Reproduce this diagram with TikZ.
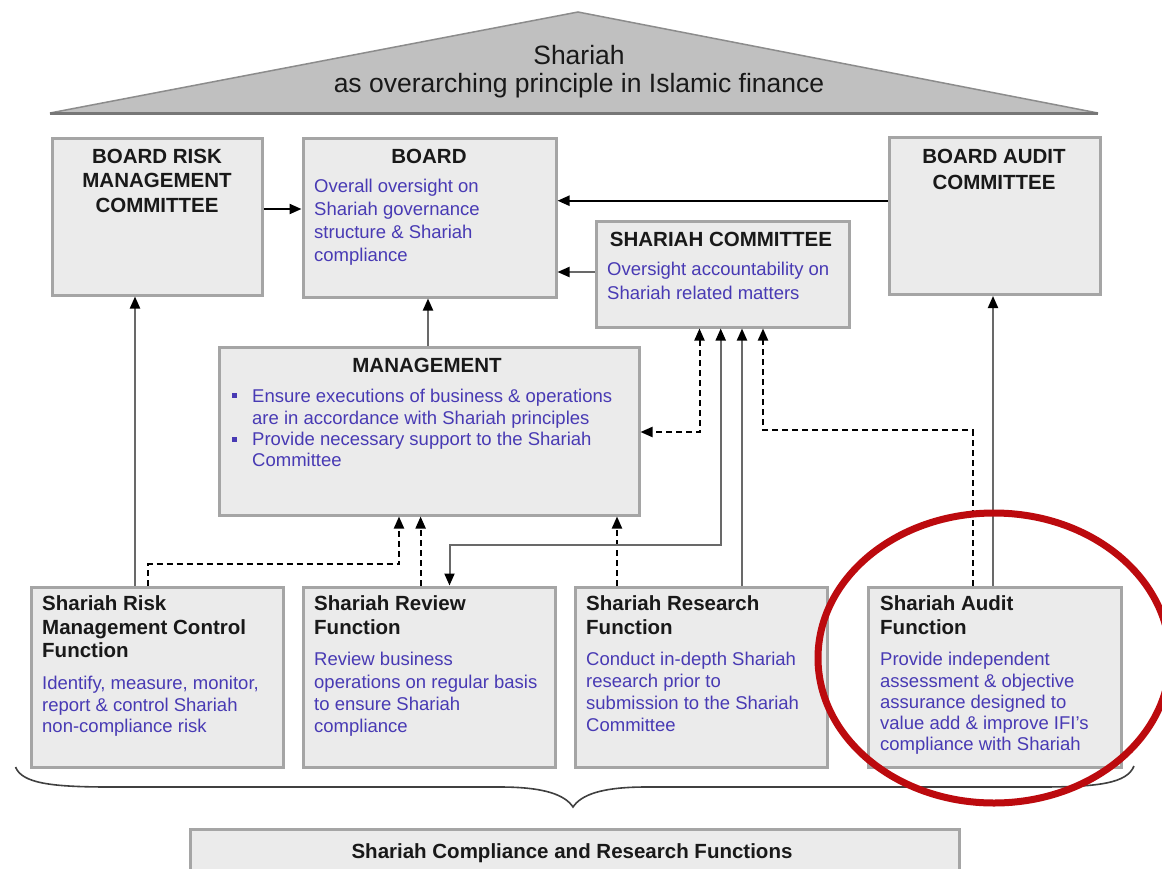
\documentclass[tikz,border=0pt]{standalone}
\usepackage{fontspec}
\setmainfont{Liberation Sans}
\usetikzlibrary{arrows.meta}
\definecolor{boxfill}{RGB}{235,235,235}
\definecolor{boxedge}{RGB}{165,165,165}
\definecolor{roofgray}{RGB}{192,192,192}
\definecolor{roofedge}{RGB}{140,140,140}
\definecolor{bodyblue}{RGB}{72,58,180}
\definecolor{titlecol}{RGB}{25,25,25}
\definecolor{conngray}{RGB}{105,105,105}
\definecolor{circred}{RGB}{188,10,14}
\tikzset{
  box/.style={rectangle, draw=boxedge, fill=boxfill, line width=3pt, inner sep=0pt},
  ttl/.style={inner sep=0pt, text=titlecol, font=\fontsize{20.5}{24.5}\selectfont\bfseries},
  body/.style={inner sep=0pt, text=bodyblue, align=left, anchor=north west},
  tip/.style={-{Triangle[length=12pt,width=10pt,color=black]}},
  tips/.style={{Triangle[length=12pt,width=10pt,color=black]}-{Triangle[length=12pt,width=10pt,color=black]}},
  sline/.style={draw=conngray, line width=2pt},
  bline/.style={draw=black, line width=2.2pt},
  dline/.style={draw=black, line width=2pt, dash pattern=on 6pt off 4pt},
  bul/.style={rectangle, fill=bodyblue, minimum size=5pt, inner sep=0pt}
}
\begin{document}
\begin{tikzpicture}[x=1pt,y=-1pt]
\useasboundingbox (0,0) rectangle (1162,868);
\clip (0,0) rectangle (1162,868);
\fill[white] (0,0) rectangle (1162,868);

% roof
\draw[fill=roofgray, draw=roofedge, line width=1.5pt, line join=miter] (50,113) -- (578,12) -- (1098,113) -- cycle;
\draw[draw=roofedge!85!black, line width=3.5pt] (50,113.5) -- (1098,113.5);
\node[inner sep=0pt, anchor=north, align=center, text=titlecol, font=\fontsize{26.5}{28}\selectfont] (roofT) at (579,45) {Shariah\\as overarching principle in Islamic finance};

% boxes
\node[box, minimum width=210pt, minimum height=157pt] (brmc) at (157,216.5) {};
\node[box, minimum width=253pt, minimum height=159pt] (board) at (429.5,217.5) {};
\node[box, minimum width=211pt, minimum height=157pt] (bac) at (994.5,216) {};
\node[box, minimum width=253pt, minimum height=106pt] (sc) at (722.5,274) {};
\node[box, minimum width=420pt, minimum height=168pt] (mgmt) at (429,431) {};
\node[box, minimum width=252pt, minimum height=180pt] (srm) at (157,677) {};
\node[box, minimum width=252pt, minimum height=180pt] (srv) at (429,677) {};
\node[box, minimum width=252pt, minimum height=180pt] (srs) at (701,677) {};
\node[box, minimum width=253pt, minimum height=180pt] (saf) at (994.5,677) {};
\node[box, minimum width=769pt, minimum height=71pt] (bot) at (574.5,864.5) {};

% texts
\node[ttl, anchor=north, align=center] (brmcT) at (157,148.5) {BOARD RISK\\MANAGEMENT\\COMMITTEE};
\node[ttl, anchor=north] (boardT) at (429,148.5) {BOARD};
\node[body, font=\fontsize{18.5}{22.7}\selectfont] (boardB) at (314,179.3) {Overall oversight on\\Shariah governance\\structure \& Shariah\\compliance};
\node[ttl, anchor=north, align=center, font=\fontsize{20.5}{26.5}\selectfont\bfseries] (bacT) at (994,148.5) {BOARD AUDIT\\COMMITTEE};
\node[ttl, anchor=north] (scT) at (721,231.5) {SHARIAH COMMITTEE};
\node[body, font=\fontsize{18.5}{24}\selectfont] (scB) at (607,262.3) {Oversight accountability on\\Shariah related matters};
\node[ttl, anchor=north] (mgmtT) at (427,357.5) {MANAGEMENT};
\node[body, font=\fontsize{18.5}{21.3}\selectfont] (mgmtB) at (252,389.3) {Ensure executions of business \& operations\\are in accordance with Shariah principles\\Provide necessary support to the Shariah\\Committee};
\node[bul] (bul1) at (234,395) {};
\node[bul] (bul2) at (234,439) {};

\node[ttl, anchor=north west, align=left, font=\fontsize{20.5}{23.5}\selectfont\bfseries] (srmT) at (42,595.5) {Shariah Risk\\Management Control\\Function};
\node[body, font=\fontsize{18.5}{21.5}\selectfont] (srmB) at (42,676) {Identify, measure, monitor,\\report \& control Shariah\\non-compliance risk};
\node[ttl, anchor=north west, align=left, font=\fontsize{20.5}{23.5}\selectfont\bfseries] (srvT) at (314,595.5) {Shariah Review\\Function};
\node[body, font=\fontsize{18.5}{22.2}\selectfont] (srvB) at (314,652.3) {Review business\\operations on regular basis\\to ensure Shariah\\compliance};
\node[ttl, anchor=north west, align=left, font=\fontsize{20.5}{23.5}\selectfont\bfseries] (srsT) at (586,595.5) {Shariah Research\\Function};
\node[body, font=\fontsize{18.5}{22}\selectfont] (srsB) at (586,652.3) {Conduct in-depth Shariah\\research prior to\\submission to the Shariah\\Committee};
\node[ttl, anchor=north west, align=left, font=\fontsize{20.5}{23.5}\selectfont\bfseries] (safT) at (880,595.5) {Shariah Audit\\Function};
\node[body, font=\fontsize{18.5}{21.2}\selectfont] (safB) at (880,652.3) {Provide independent\\assessment \& objective\\assurance designed to\\value add \& improve IFI's\\compliance with Shariah};
\node[ttl, anchor=north] (botT) at (572,843.2) {Shariah Compliance and Research Functions};

% connectors
\draw[bline, tip] (brmc.east |- 0,209) -- (board.west |- 0,209);
\draw[bline, tip] (bac.west |- 0,200.7) -- (board.east |- 0,200.7);
\draw[sline, tip] (sc.west |- 0,272) -- (board.east |- 0,272);
\draw[sline, tip] (mgmt.north -| 428,0) -- (board.south -| 428,0);
\draw[sline, tip] (srm.north -| 135,0) -- (brmc.south -| 135,0);
\draw[sline, tip] (saf.north -| 993,0) -- (bac.south -| 993,0);
\draw[dline, tip] (srm.north -| 148,0) -- (148,564) -- (399,564) -- (mgmt.south -| 399,0);
\draw[dline, tip] (srv.north -| 420.6,0) -- (mgmt.south -| 420.6,0);
\draw[dline, tip] (srs.north -| 617,0) -- (mgmt.south -| 617,0);
\draw[sline, tips] (sc.south -| 720.7,0) -- (720.7,544.7) -- (449.5,544.7) -- (srv.north -| 449.5,0);
\draw[sline, tip] (srs.north -| 742,0) -- (sc.south -| 742,0);
\draw[dline, tips] (sc.south -| 699.5,0) -- (699.5,432) -- (mgmt.east |- 0,432);
\draw[dline, tip] (saf.north -| 972.7,0) -- (972.7,430) -- (763,430) -- (sc.south -| 763,0);

% brace
\draw[draw=black!75, line width=1.6pt] (15.5,767) .. controls (22,783) and (50,787) .. (110,787) -- (500,787) .. controls (545,787) and (565,795) .. (573,807) .. controls (581,795) and (601,787) .. (646,787) -- (1040,787) .. controls (1100,787) and (1127,783) .. (1134,766);

% red ellipse
\draw[draw=circred, line width=7pt] (994,658) ellipse [x radius=176, y radius=145];
\end{tikzpicture}
\end{document}
